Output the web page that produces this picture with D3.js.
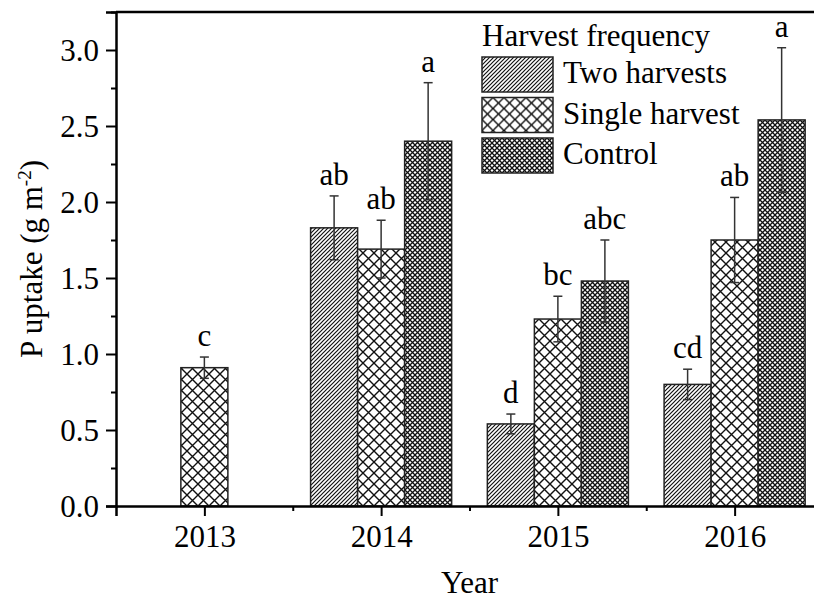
<!DOCTYPE html>
<html>
<head>
<meta charset="utf-8">
<script src="https://cdn.jsdelivr.net/npm/d3@7"></script>
<style>
  body { margin: 0; background: #fff; }
  svg { display: block; font-family: "Liberation Serif", "Times New Roman", serif; }
</style>
</head>
<body>
<div id="chart-container"></div>
<script>
const width = 814;
const height = 602;

// data
const years = [2013, 2014, 2015, 2016];
const seriesNames = ["Two harvests", "Single harvest", "Control"];
const twoHarvests = [null, 1.83, 0.54, 0.80];
const twoHarvestsErr = [null, 0.21, 0.065, 0.10];
const twoHarvestsLetters = [null, "ab", "d", "cd"];
const singleHarvest = [0.91, 1.69, 1.23, 1.75];
const singleHarvestErr = [0.07, 0.19, 0.15, 0.28];
const singleHarvestLetters = ["c", "ab", "bc", "ab"];
const control = [null, 2.40, 1.48, 2.54];
const controlErr = [null, 0.385, 0.27, 0.475];
const controlLetters = [null, "a", "abc", "a"];
const yTicks = [0, 0.5, 1.0, 1.5, 2.0, 2.5, 3.0];

const svg = d3.select("#chart-container")
  .append("svg")
  .attr("width", width)
  .attr("height", height);

const x = d3.scaleLinear().domain([2012.5, 2016.5]).range([116, 823]);
const y = d3.scaleLinear().domain([0, 3.25]).range([506, 12]);
const barW = x(2013.266) - x(2013);

// hatch patterns
const defs = svg.append("defs");
const p1 = defs.append("pattern").attr("id", "pat0")
  .attr("patternUnits", "userSpaceOnUse").attr("width", 4).attr("height", 4);
p1.append("rect").attr("width", 4).attr("height", 4).attr("fill", "#fff");
p1.append("path").attr("d", "M-1,1 l2,-2 M0,4 l4,-4 M3,5 l2,-2")
  .attr("stroke", "#111").attr("stroke-width", 1.2);

const p2 = defs.append("pattern").attr("id", "pat1")
  .attr("patternUnits", "userSpaceOnUse").attr("width", 11).attr("height", 11);
p2.append("rect").attr("width", 11).attr("height", 11).attr("fill", "#fff");
p2.append("path").attr("d", "M0,0 L11,11 M11,0 L0,11")
  .attr("stroke", "#111").attr("stroke-width", 1.4);

const p3 = defs.append("pattern").attr("id", "pat2")
  .attr("patternUnits", "userSpaceOnUse").attr("width", 5).attr("height", 5);
p3.append("rect").attr("width", 5).attr("height", 5).attr("fill", "#fff");
p3.append("path").attr("d", "M0,0 L5,5 M5,0 L0,5")
  .attr("stroke", "#111").attr("stroke-width", 1.3);

const series = [
  { values: twoHarvests, err: twoHarvestsErr, letters: twoHarvestsLetters },
  { values: singleHarvest, err: singleHarvestErr, letters: singleHarvestLetters },
  { values: control, err: controlErr, letters: controlLetters },
];

const bars = [];
series.forEach((s, si) => {
  years.forEach((yr, i) => {
    if (s.values[i] == null) return;
    bars.push({ si, year: yr, value: s.values[i], err: s.err[i], letter: s.letters[i] });
  });
});

const cx = (d) => x(d.year) + (d.si - 1) * barW;

svg.append("g")
  .selectAll("rect")
  .data(bars)
  .join("rect")
  .attr("x", (d) => cx(d) - barW / 2)
  .attr("y", (d) => y(d.value))
  .attr("width", barW)
  .attr("height", (d) => y(0) - y(d.value))
  .attr("fill", (d) => `url(#pat${d.si})`)
  .attr("stroke", "#222")
  .attr("stroke-width", 1.5);

// error bars
const eb = svg.append("g").attr("stroke", "#333").attr("stroke-width", 1.5);
eb.selectAll("line.v").data(bars).join("line")
  .attr("x1", cx).attr("x2", cx)
  .attr("y1", (d) => y(d.value + d.err))
  .attr("y2", (d) => y(d.value - d.err));
eb.selectAll("line.t").data(bars).join("line")
  .attr("x1", (d) => cx(d) - 4.5).attr("x2", (d) => cx(d) + 4.5)
  .attr("y1", (d) => y(d.value + d.err)).attr("y2", (d) => y(d.value + d.err));
eb.selectAll("line.b").data(bars).join("line")
  .attr("x1", (d) => cx(d) - 4.5).attr("x2", (d) => cx(d) + 4.5)
  .attr("y1", (d) => y(d.value - d.err)).attr("y2", (d) => y(d.value - d.err));

svg.append("g")
  .selectAll("text")
  .data(bars)
  .join("text")
  .attr("x", cx)
  .attr("y", (d) => y(d.value + d.err) - 11)
  .attr("text-anchor", "middle")
  .style("font-size", "31px")
  .text((d) => d.letter);

// axes
const xAxis = svg.append("g")
  .attr("transform", `translate(0,${y(0)})`)
  .call(d3.axisBottom(x).tickValues(years).tickFormat(d3.format("d")).tickSizeOuter(0).tickSize(10));
xAxis.attr("font-family", null);
xAxis.selectAll("text").attr("dy", 0).attr("y", 41).style("font-size", "31px").attr("fill", "#000");

svg.append("g")
  .attr("transform", `translate(0,${y(0)})`)
  .call(d3.axisBottom(x).tickValues([2013.5, 2014.5, 2015.5]).tickFormat("").tickSize(5))
  .call((g) => g.select(".domain").remove());

const yAxis = svg.append("g")
  .attr("transform", `translate(${x(2012.5)},0)`)
  .call(d3.axisLeft(y).tickValues(yTicks).tickFormat(d3.format(".1f")).tickSizeOuter(0).tickSize(10));
yAxis.attr("font-family", null);
yAxis.selectAll("text").attr("x", -17).attr("dy", "0.34em").style("font-size", "31px").attr("fill", "#000");

svg.append("g")
  .attr("transform", `translate(${x(2012.5)},0)`)
  .call(d3.axisLeft(y).tickValues([0.25, 0.75, 1.25, 1.75, 2.25, 2.75, 3.25]).tickFormat("").tickSize(5))
  .call((g) => g.select(".domain").remove());

svg.selectAll(".domain").attr("stroke", "#000").attr("stroke-width", 2.5);
svg.selectAll(".tick line").attr("stroke", "#000").attr("stroke-width", 2);

// top frame line
svg.append("line")
  .attr("x1", x(2012.5)).attr("x2", x(2016.5))
  .attr("y1", y(3.25)).attr("y2", y(3.25))
  .attr("stroke", "#000").attr("stroke-width", 2.5);

// axis titles
svg.append("text")
  .attr("x", (x(2012.5) + x(2016.5)) / 2)
  .attr("y", 593)
  .attr("text-anchor", "middle")
  .style("font-size", "31px")
  .text("Year");

const yt = svg.append("text")
  .attr("transform", `translate(42,${(y(0) + y(3.25)) / 2}) rotate(-90)`)
  .attr("text-anchor", "middle")
  .style("font-size", "31px");
yt.append("tspan").text("P uptake (g m");
yt.append("tspan").attr("dy", -11).style("font-size", "19px").text("-2");
yt.append("tspan").attr("dy", 11).text(")");

// legend
const legend = svg.append("g").attr("transform", "translate(482,0)");
legend.append("text").attr("x", 0).attr("y", 46).style("font-size", "31px").text("Harvest frequency");
seriesNames.forEach((name, i) => {
  const g = legend.append("g").attr("transform", `translate(0,${57 + i * 40.5})`);
  g.append("rect").attr("width", 71).attr("height", 35)
    .attr("fill", `url(#pat${i})`).attr("stroke", "#222").attr("stroke-width", 1.5);
  g.append("text").attr("x", 81).attr("y", 26).style("font-size", "31px").text(name);
});
</script>
</body>
</html>
